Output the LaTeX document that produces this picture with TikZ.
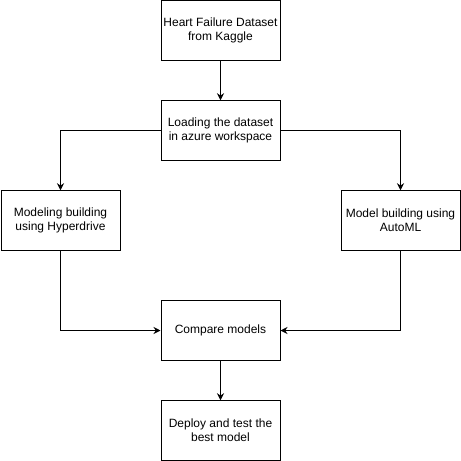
\documentclass[tikz,border=0pt]{standalone}
\usepackage{fontspec}
\setmainfont{Liberation Sans}
\usetikzlibrary{arrows.meta}

\begin{document}
\begin{tikzpicture}[x=1pt,y=-1pt,
    etape/.style={draw, line width=1pt, minimum width=119pt, minimum height=59.5pt,
        align=center, inner sep=0pt, font=\fontsize{12}{14}\selectfont},
    fleche/.style={-{Stealth[length=7pt,width=7pt]}, line width=1pt}]
    \useasboundingbox (0,0) rectangle (461,461);

    % Les etapes
    \node[etape] (kaggle) at (220.5,30.5) {Heart Failure Dataset\\from Kaggle};
    \node[etape] (charge) at (220.5,130.5) {Loading the dataset\\in azure workspace};
    \node[etape] (hyper) at (60.5,220.5) {Modeling building\\using Hyperdrive};
    \node[etape] (automl) at (400.5,220.5) {Model building using\\AutoML};
    \node[etape] (compare) at (220.5,330.5) {Compare models};
    \node[etape] (deploy) at (220.5,430.5) {Deploy and test the\\best model};

    % Les fleches
    \draw[fleche] (kaggle) -- (charge);
    \draw[fleche] (charge.west) -| (hyper.north);
    \draw[fleche] (charge.east) -| (automl.north);
    \draw[fleche] (hyper.south) |- (compare.west);
    \draw[fleche] (automl.south) |- (compare.east);
    \draw[fleche] (compare) -- (deploy);
\end{tikzpicture}
\end{document}
